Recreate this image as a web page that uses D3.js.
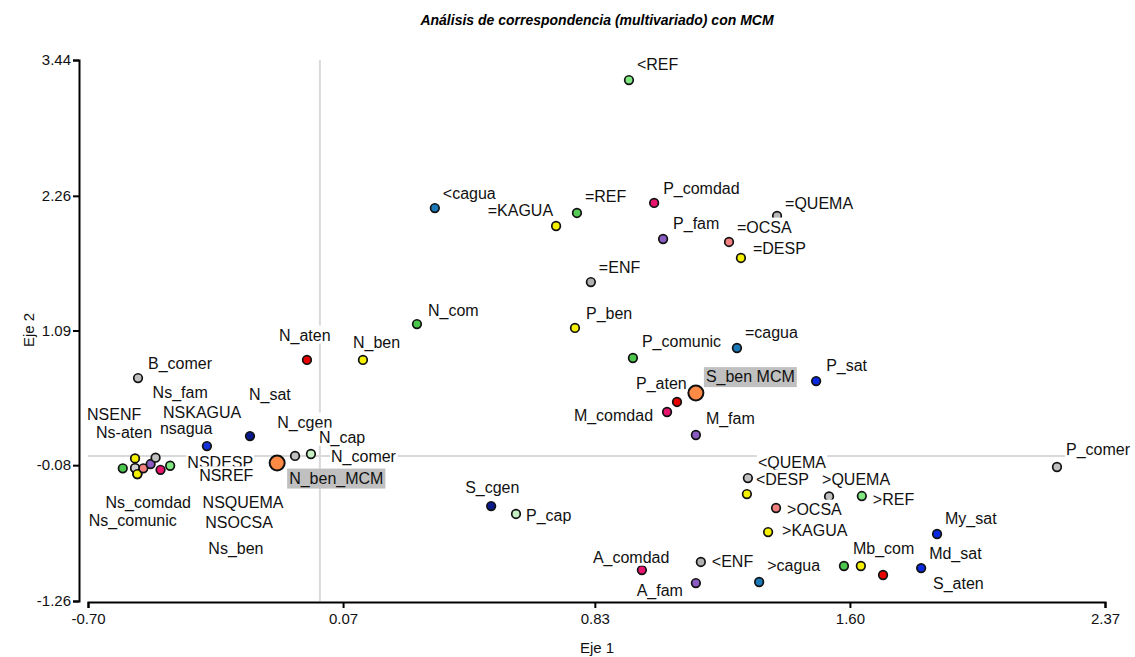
<!DOCTYPE html>
<html>
<head>
<meta charset="utf-8">
<script src="https://cdn.jsdelivr.net/npm/d3@7"></script>
<style>
  html, body { margin: 0; padding: 0; background: #fff; }
  svg { display: block; font-family: "Liberation Sans", Arial, sans-serif; }
</style>
</head>
<body>
<svg id="chart" width="1135" height="657"></svg>
<script>
// ---------------- DATA ----------------
const names = [
  "Ns-aten", "Ns_ben", "N_cgen",
  "<REF", "<cagua", "=KAGUA", "=REF", "P_comdad", "P_fam", "=OCSA", "=DESP", "=QUEMA", "=ENF",
  "N_com", "P_ben", "N_aten", "N_ben", "=cagua", "P_comunic", "B_comer", "P_sat",
  "P_aten", "M_comdad", "M_fam", "nsagua", "N_sat", "N_comer", "N_cap",
  "Ns_comunic", "NSKAGUA", "NSENF", "NSDESP", "NSOCSA", "Ns_fam", "NSQUEMA", "Ns_comdad", "NSREF",
  "<QUEMA", "<DESP", ">QUEMA", ">REF", ">OCSA", ">KAGUA", "My_sat", "<ENF", ">cagua",
  "Mb_com", "Mb_ben", "S_aten", "Md_sat", "A_fam", "A_comdad", "S_cgen", "P_cap", "P_comer",
  "N_ben_MCM", "S_ben MCM"
];
const eje1 = [
  -0.558, -0.551, -0.129,
  0.933, 0.347, 0.713, 0.776, 1.009, 1.036, 1.235, 1.271, 1.380, 0.818,
  0.293, 0.770, -0.039, 0.130, 1.259, 0.945, -0.549, 1.498,
  1.078, 1.048, 1.135, -0.341, -0.211, -0.075, -0.027,
  -0.595, -0.558, -0.558, -0.551, -0.533, -0.511, -0.496, -0.481, -0.452,
  1.292, 1.289, 1.537, 1.636, 1.377, 1.353, 1.863, 1.150, 1.326,
  1.582, 1.633, 1.700, 1.815, 1.135, 0.972, 0.517, 0.592, 2.225,
  -0.129, 1.135
];
const eje2 = [
  -0.105, -0.157, -0.061,
  3.266, 2.154, 1.998, 2.111, 2.198, 1.885, 1.859, 1.720, 2.085, 1.511,
  1.146, 1.112, 0.834, 0.834, 0.938, 0.851, 0.677, 0.651,
  0.469, 0.382, 0.182, 0.086, 0.173, 0.000, 0.017,
  -0.107, -0.021, -0.105, -0.157, -0.107, -0.070, -0.015, -0.120, -0.085,
  -0.192, -0.331, -0.352, -0.348, -0.452, -0.661, -0.678, -0.921, -1.095,
  -0.956, -0.956, -1.034, -0.974, -1.104, -0.991, -0.435, -0.504, -0.096,
  -0.061, 0.547
];
const xTicks = [-0.70, 0.07, 0.83, 1.60, 2.37];
const yTicks = [3.44, 2.26, 1.09, -0.08, -1.26];
const xTickLabels = ["-0.70", "0.07", "0.83", "1.60", "2.37"];
const yTickLabels = ["3.44", "2.26", "1.09", "-0.08", "-1.26"];
const titleText = "Análisis de correspondencia (multivariado) con MCM";
const xTitle = "Eje 1";
const yTitle = "Eje 2";

// ---------------- STYLE ----------------
const colorOf = {
  "Ns-aten": "#e00000", "Ns_ben": "#f5f000", "N_cgen": "#0a1a8c",
  "<REF": "#80e680", "<cagua": "#1c79b8", "=KAGUA": "#f5f000", "=REF": "#56cc56",
  "P_comdad": "#e8146e", "P_fam": "#8a5cc2", "=OCSA": "#f08080", "=DESP": "#f5f000",
  "=QUEMA": "#b8b8b8", "=ENF": "#b0b0b0", "N_com": "#4cc64c", "P_ben": "#f5f000",
  "N_aten": "#e80000", "N_ben": "#f5f000", "=cagua": "#1c79b8", "P_comunic": "#4cc64c",
  "B_comer": "#c0c0c0", "P_sat": "#0a28e0", "P_aten": "#e80000", "M_comdad": "#e8146e",
  "M_fam": "#8a5cc2", "nsagua": "#1430d8", "N_sat": "#0a1a8c", "N_comer": "#c0c0c0",
  "N_cap": "#c4f0c4", "Ns_comunic": "#4cc64c", "NSKAGUA": "#f5f000", "NSENF": "#d0d0d0",
  "NSDESP": "#f5f000", "NSOCSA": "#f08080", "Ns_fam": "#8a5cc2", "NSQUEMA": "#c0c0c0",
  "Ns_comdad": "#e8146e", "NSREF": "#80e680",
  "<QUEMA": "#c0c0c0", "<DESP": "#f5f000", ">QUEMA": "#c0c0c0", ">REF": "#80e680",
  ">OCSA": "#f08080", ">KAGUA": "#f5f000", "My_sat": "#0a28e0", "<ENF": "#b0b0b0",
  ">cagua": "#1c79b8", "Mb_com": "#4cc64c", "Mb_ben": "#f5f000", "S_aten": "#e80000",
  "Md_sat": "#0a28e0", "A_fam": "#8a5cc2", "A_comdad": "#e8146e", "S_cgen": "#0a1a8c",
  "P_cap": "#c4f0c4", "P_comer": "#c0c0c0",
  "N_ben_MCM": "#ff8a45", "S_ben MCM": "#ff8a45"
};
const bigPoints = new Set(["N_ben_MCM", "S_ben MCM"]);
const boxedLabels = new Set(["N_ben_MCM", "S_ben MCM"]);
const hiddenLabels = new Set(["Mb_ben"]);
// label placement relative to its point, in pixels: [dx, dy(center), anchor]
const labelPlace = {
  "<REF": [8, -16], "<cagua": [8, -15], "=KAGUA": [-3, -16, "end"], "=REF": [8, -17],
  "P_comdad": [9, -15], "P_fam": [10, -16], "=OCSA": [8, -15], "=DESP": [12, -10],
  "=QUEMA": [8, -13], "=ENF": [8, -15], "N_com": [11, -14], "P_ben": [11, -15],
  "N_aten": [-28, -25], "N_ben": [-10, -18], "=cagua": [8, -16], "P_comunic": [9, -17],
  "B_comer": [10, -15], "P_sat": [10, -16], "S_ben MCM": [10, -16.5],
  "P_aten": [-41, -19], "M_comdad": [-14, 3, "end"], "M_fam": [10, -17],
  "nsagua": [-47, -18], "N_sat": [-1, -42], "N_cgen": [0, -41], "N_cap": [8, -17],
  "N_comer": [36, 0], "N_ben_MCM": [12, 15],
  "NSENF": [-48, -54], "Ns-aten": [-39, -36], "Ns_fam": [2, -72], "NSKAGUA": [28, -46],
  "NSDESP": [50, -12], "NSREF": [29, 10], "NSQUEMA": [47, 45], "NSOCSA": [62, 54],
  "Ns_ben": [71, 74], "Ns_comdad": [-55, 33], "Ns_comunic": [-34, 52],
  "<QUEMA": [10, -16], "<DESP": [9, -15], ">QUEMA": [-7, -17], ">REF": [11, 3],
  ">OCSA": [11, 1], ">KAGUA": [14, -2], "My_sat": [8, -16], "<ENF": [11, -1],
  ">cagua": [8, -17], "Mb_com": [9, -18], "Md_sat": [8, -15], "S_aten": [50, 8],
  "A_fam": [-13, 7, "end"], "A_comdad": [-49, -13], "S_cgen": [-26, -19],
  "P_cap": [10, 1], "P_comer": [9, -18]
};

// ---------------- CHART ----------------
const svg = d3.select("#chart");
const x = d3.scaleLinear().domain([-0.70, 2.37]).range([88, 1105]);
const y = d3.scaleLinear().domain([-1.26, 3.44]).range([601, 60]);

// title
svg.append("text")
  .attr("x", 597).attr("y", 25)
  .attr("text-anchor", "middle")
  .style("font-weight", "bold").style("font-style", "italic")
  .style("font-size", "14px")
  .text(titleText);

// gridlines at zero
svg.append("line")
  .attr("x1", x(0)).attr("x2", x(0)).attr("y1", y(3.44)).attr("y2", y(-1.26))
  .attr("stroke", "#d9d9d9").attr("stroke-width", 2);
svg.append("line")
  .attr("x1", x(-0.70)).attr("x2", x(2.37)).attr("y1", y(0)).attr("y2", y(0))
  .attr("stroke", "#d9d9d9").attr("stroke-width", 2);

// axes
const xAxis = d3.axisBottom(x).tickValues(xTicks)
  .tickFormat((d, i) => xTickLabels[i]).tickSizeOuter(0).tickSize(6).tickPadding(5);
const yAxis = d3.axisLeft(y).tickValues(yTicks)
  .tickFormat((d, i) => yTickLabels[i]).tickSizeOuter(0).tickSize(6).tickPadding(2);

const gx = svg.append("g").attr("transform", "translate(0,602)").call(xAxis);
const gy = svg.append("g").attr("transform", "translate(79,0)").call(yAxis);
[gx, gy].forEach(g => {
  g.select(".domain").attr("stroke", "#000").attr("stroke-width", 2);
  g.selectAll(".tick line").attr("stroke", "#000").attr("stroke-width", 2);
  g.selectAll(".tick text").attr("fill", "#111")
    .style("font-size", "15px").style("font-family", "'Liberation Sans', Arial, sans-serif");
});

svg.append("text")
  .attr("x", 597).attr("y", 653)
  .attr("text-anchor", "middle").style("font-size", "15px").attr("fill", "#111")
  .text(xTitle);
svg.append("text")
  .attr("transform", "translate(34,330) rotate(-90)")
  .attr("text-anchor", "middle").style("font-size", "15px").attr("fill", "#111")
  .text(yTitle);

// points
const pts = names.map((n, i) => ({ name: n, x: eje1[i], y: eje2[i] }));
const small = pts.filter(d => !bigPoints.has(d.name));
const big = pts.filter(d => bigPoints.has(d.name));

svg.append("g").selectAll("circle").data(small).join("circle")
  .attr("cx", d => x(d.x)).attr("cy", d => y(d.y))
  .attr("r", 4.3)
  .attr("fill", d => colorOf[d.name])
  .attr("stroke", "#111").attr("stroke-width", 1.7);

svg.append("g").selectAll("circle").data(big).join("circle")
  .attr("cx", d => x(d.x)).attr("cy", d => y(d.y))
  .attr("r", 7.5)
  .attr("fill", d => colorOf[d.name])
  .attr("stroke", "#111").attr("stroke-width", 2);

// labels with opaque backgrounds
const lg = svg.append("g").style("font-size", "16px");
pts.forEach(d => {
  if (hiddenLabels.has(d.name)) return;
  const p = labelPlace[d.name];
  if (!p) return;
  const g = lg.append("g");
  const t = g.append("text")
    .attr("x", x(d.x) + p[0])
    .attr("y", y(d.y) + p[1])
    .attr("dy", "0.35em")
    .attr("text-anchor", p[2] || "start")
    .attr("fill", "#111")
    .text(d.name);
  const bb = t.node().getBBox();
  const boxed = boxedLabels.has(d.name);
  g.insert("rect", "text")
    .attr("x", bb.x - (boxed ? 2 : 1))
    .attr("y", bb.y - 1)
    .attr("width", bb.width + (boxed ? 4 : 2))
    .attr("height", bb.height + (boxed ? 2 : 0))
    .attr("fill", boxed ? "#c0c0c0" : "#fff");
});
</script>
</body>
</html>
